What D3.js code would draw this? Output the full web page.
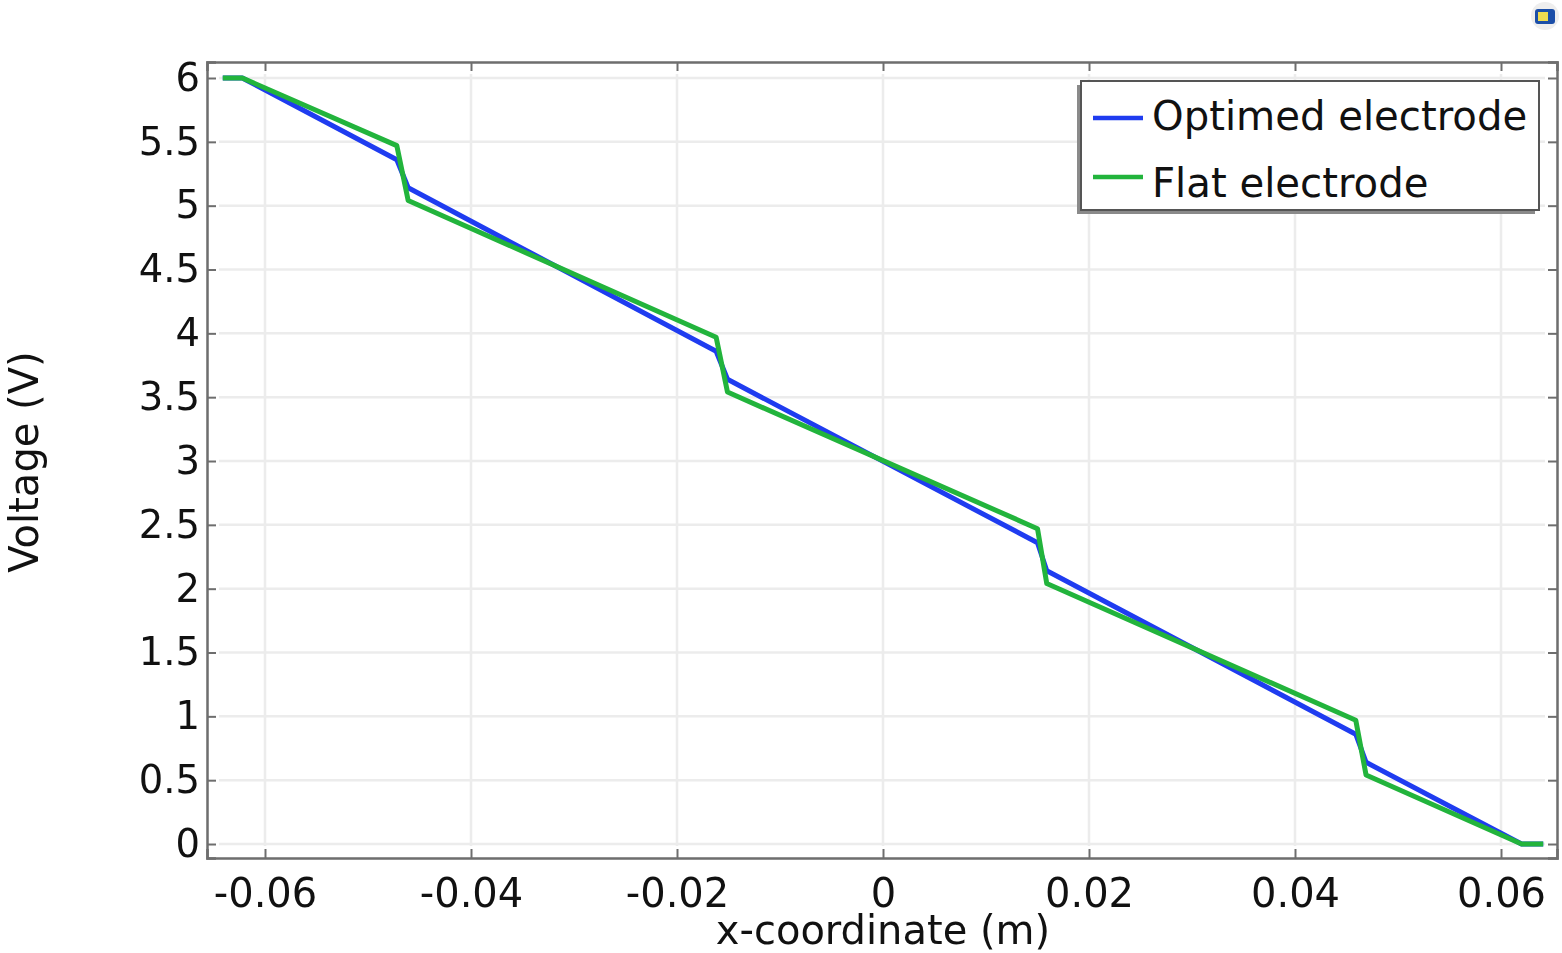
<!DOCTYPE html>
<html>
<head>
<meta charset="utf-8">
<script src="https://cdn.jsdelivr.net/npm/d3@7"></script>
<style>
  html, body { margin: 0; padding: 0; background: #fff; }
  svg { display: block; filter: blur(0.7px); }
  text { font-family: "DejaVu Sans", sans-serif; fill: #111; }
</style>
</head>
<body>
<div id="vis"></div>
<script>
// values
var xTicks = [-0.06, -0.04, -0.02, 0, 0.02, 0.04, 0.06];
var xTickLabels = ["-0.06", "-0.04", "-0.02", "0", "0.02", "0.04", "0.06"];
var yTicks = [0, 0.5, 1, 1.5, 2, 2.5, 3, 3.5, 4, 4.5, 5, 5.5, 6];
var yTickLabels = ["0", "0.5", "1", "1.5", "2", "2.5", "3", "3.5", "4", "4.5", "5", "5.5", "6"];

var xCoords = [-0.0641, -0.0622, -0.0472, -0.0461, -0.0162, -0.0151, 0.0150, 0.0159, 0.0459, 0.0469, 0.0620, 0.0641];
var optimed = [6, 6, 5.36, 5.14, 3.86, 3.64, 2.36, 2.14, 0.86, 0.64, 0, 0];
var flat = [6, 6, 5.47, 5.04, 3.97, 3.54, 2.47, 2.04, 0.97, 0.54, 0, 0];

var seriesNames = ["Optimed electrode", "Flat electrode"];
var seriesColors = ["#1f3cf0", "#22b43c"];

var w = 1562,
    h = 953,
    left = 207,
    right = 1557,
    top_ = 62,
    bottom = 858;

// domain is worked out from where the ticks sit in the picture
var x = d3.scaleLinear()
    .domain([(left - 883) / 10300, (right - 883) / 10300])
    .range([left, right]);
var y = d3.scaleLinear()
    .domain([6 - (bottom - 78) / 127.67, 6 + (78 - top_) / 127.67])
    .range([bottom, top_]);

var svg = d3.select("#vis").append("svg")
    .attr("width", w)
    .attr("height", h);

// grid
svg.append("g").selectAll("line")
    .data(xTicks)
  .enter().append("line")
    .attr("x1", function(d) { return x(d); })
    .attr("x2", function(d) { return x(d); })
    .attr("y1", top_ + 12)
    .attr("y2", bottom - 12)
    .attr("stroke", "#ececec")
    .attr("stroke-width", 2.5);

svg.append("g").selectAll("line")
    .data(yTicks)
  .enter().append("line")
    .attr("x1", left + 12)
    .attr("x2", right - 12)
    .attr("y1", function(d) { return y(d); })
    .attr("y2", function(d) { return y(d); })
    .attr("stroke", "#ececec")
    .attr("stroke-width", 2.5);

// axes
var xAxis = d3.axisBottom(x).tickValues(xTicks).tickSize(-9).tickPadding(21)
    .tickFormat(function(d, i) { return xTickLabels[i]; });
var yAxis = d3.axisLeft(y).tickValues(yTicks).tickSize(-9).tickPadding(7)
    .tickFormat(function(d, i) { return yTickLabels[i]; });
var xAxisTop = d3.axisTop(x).tickValues(xTicks).tickSize(-9).tickFormat("");
var yAxisRight = d3.axisRight(y).tickValues(yTicks).tickSize(-9).tickFormat("");

function styleAxis(g) {
  g.selectAll(".domain").attr("stroke", "#6e6e6e").attr("stroke-width", 2.5);
  g.selectAll(".tick line").attr("stroke", "#6e6e6e").attr("stroke-width", 2);
  g.selectAll("text").attr("font-size", 40).attr("fill", "#111");
}

svg.append("g").attr("transform", "translate(0," + bottom + ")").call(xAxis).call(styleAxis);
svg.append("g").attr("transform", "translate(" + left + ",0)").call(yAxis).call(styleAxis)
    .selectAll("text").attr("font-size", 38.5);
svg.append("g").attr("transform", "translate(0," + top_ + ")").call(xAxisTop).call(styleAxis);
svg.append("g").attr("transform", "translate(" + right + ",0)").call(yAxisRight).call(styleAxis);

// lines
var line = d3.line()
    .x(function(d) { return x(d[0]); })
    .y(function(d) { return y(d[1]); });

[optimed, flat].forEach(function(values, i) {
  svg.append("path")
    .datum(d3.zip(xCoords, values))
    .attr("d", line)
    .attr("fill", "none")
    .attr("stroke", seriesColors[i])
    .attr("stroke-width", 5)
    .attr("stroke-linejoin", "round");
});

// axis titles
svg.append("text")
    .attr("x", 883)
    .attr("y", 943.5)
    .attr("text-anchor", "middle")
    .attr("font-size", 40)
    .text("x-coordinate (m)");

svg.append("text")
    .attr("transform", "translate(37.5,462) rotate(-90)")
    .attr("text-anchor", "middle")
    .attr("font-size", 40)
    .text("Voltage (V)");

// legend
var legend = svg.append("g");
legend.append("rect")
    .attr("x", 1077).attr("y", 85).attr("width", 458).attr("height", 129)
    .attr("fill", "#8a8a8a");
legend.append("rect")
    .attr("x", 1081).attr("y", 81).attr("width", 458).attr("height", 129)
    .attr("fill", "#fff")
    .attr("stroke", "#555")
    .attr("stroke-width", 2);

var legendY = [118, 177];
var legendTextY = [130, 197];
seriesNames.forEach(function(name, i) {
  legend.append("line")
    .attr("x1", 1093).attr("x2", 1143)
    .attr("y1", legendY[i]).attr("y2", legendY[i])
    .attr("stroke", seriesColors[i])
    .attr("stroke-width", 4.5);
  legend.append("text")
    .attr("x", 1152)
    .attr("y", legendTextY[i])
    .attr("font-size", 40.2)
    .text(name);
});

// little icon in the top right corner
var icon = svg.append("g");
icon.append("circle").attr("cx", 1545).attr("cy", 16).attr("r", 14).attr("fill", "#eeeeee");
icon.append("rect").attr("x", 1535).attr("y", 9).attr("width", 20).attr("height", 15).attr("rx", 3).attr("fill", "#1c4fa8");
icon.append("rect").attr("x", 1538).attr("y", 12).attr("width", 10).attr("height", 9).attr("fill", "#f0dc50");
</script>
</body>
</html>
